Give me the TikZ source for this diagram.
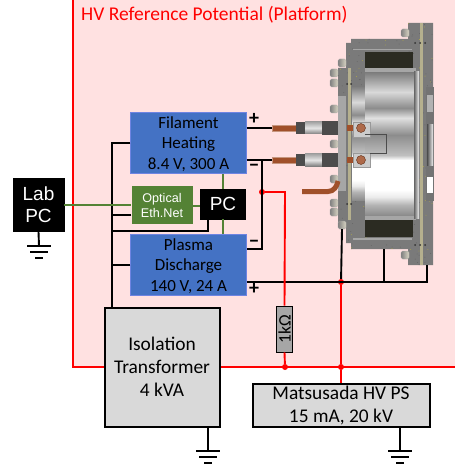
\documentclass[tikz,border=0pt]{standalone}
\usepackage{fontspec}
\setmainfont{Carlito}
\newfontfamily\arialfont{Liberation Sans}
\usetikzlibrary{positioning}
\definecolor{platformpink}{HTML}{FFE1E1}
\definecolor{boxblue}{HTML}{4472C4}
\definecolor{boxgreen}{HTML}{548235}
\definecolor{boxgray}{HTML}{D9D9D9}
\definecolor{copper}{HTML}{A0502A}
\definecolor{stone}{HTML}{7A7A7A}
\definecolor{coilblack}{HTML}{2B2B22}
\definecolor{tanstrip}{HTML}{B5B08E}
\definecolor{boltcolor}{HTML}{DAD6C4}
\pgfdeclareverticalshading{chamberbands}{100bp}{color(0bp)=(black!45); color(25bp)=(black!45);
  color(28.5bp)=(black!30); color(31.3bp)=(black!8); color(33.8bp)=(white); color(44.4bp)=(white);
  color(46.1bp)=(black!25); color(53.2bp)=(black!45); color(59.2bp)=(black!12); color(62.7bp)=(black!45);
  color(68.3bp)=(black!15); color(75bp)=(black!50); color(100bp)=(black!50)}
\tikzset{
  wire/.style={line width=1.9pt,black},
  redwire/.style={line width=1.9pt,red},
  greenwire/.style={line width=1.6pt,boxgreen},
  bluebox/.style={draw=blue!30!boxblue!70,fill=boxblue,minimum width=116pt,minimum height=61pt,inner sep=0pt,align=center,
    font=\fontsize{17}{20.6}\selectfont,text=black,text depth=-2pt},
  blackbox/.style={draw=black,fill=black,inner sep=0pt,align=center,text=white,
    font=\arialfont\fontsize{19}{22}\selectfont},
  graybox/.style={draw=black,line width=2pt,fill=boxgray,inner sep=0pt,align=center,
    font=\fontsize{19.4}{23.2}\selectfont},
  junction/.style={circle,fill=red,inner sep=0pt,minimum size=6pt},
  polarity/.style={inner sep=0pt,font=\bfseries\fontsize{20}{20}\selectfont},
  lead/.style={fill=copper,draw=copper!60,inner sep=0pt,minimum width=24pt,minimum height=6pt},
  bolt/.style={left color=black!50,right color=boltcolor,draw=black!35,line width=.3pt,rounded corners=1.5pt,inner sep=0pt,minimum width=8pt,minimum height=8pt},
  ground/.pic={
    \draw[wire] (-12,0) -- (12,0);
    \draw[wire] (-9,6) -- (9,6);
    \draw[wire] (-4,12) -- (4,12);
  }
}

\begin{document}
\begin{tikzpicture}[x=1pt,y=-1pt]
  \useasboundingbox (0,0) rectangle (455,465);

  % platform
  \fill[platformpink] (73,0) rectangle (455,367);
  \draw[redwire,line width=2.2pt] (73,0) -- (73,367) -- (455,367);
  \node[inner sep=0pt,anchor=west,text=red,font=\fontsize{19.5}{20}\selectfont] (platform) at (81,15) {HV Reference Potential (Platform)};

  % source housing
  \begin{scope}
    \clip (351,39) -- (408,39) -- (408,23) -- (433,23) -- (433,265) -- (408,265) -- (408,249) -- (351,249)
      -- (351,243) -- (346,243) -- (346,222) -- (338,222) -- (338,68) -- (346,68) -- (346,43) -- (351,43) -- cycle;
    \fill[stone] (330,20) rectangle (440,270);
    \pgfmathsetseed{11}
    \foreach \i in {1,...,260}{
      \pgfmathsetmacro\px{338+95*rnd}
      \pgfmathsetmacro\py{23+242*rnd}
      \fill[black!60] (\px,\py) circle (.5);
    }
    \foreach \i in {1,...,110}{
      \pgfmathsetmacro\px{338+95*rnd}
      \pgfmathsetmacro\py{23+242*rnd}
      \fill[yellow!70!black] (\px,\py) circle (.4);
    }
  \end{scope}
  \fill[black!35] (353,49) rectangle (412,50.5);
  \fill[coilblack] (365,52) rectangle (413,68);
  \fill[coilblack] (365,220) rectangle (413,237);
  \fill[black!35] (365,68) rectangle (416,73);
  \fill[black!35] (365,215) rectangle (416,220);
  \fill[black!35] (353,238) rectangle (412,239.5);
  \shade[shading=chamberbands] (352,87) rectangle (365,200);
  \shade[shading=chamberbands] (365,73) rectangle (414,215);
  \shade[left color=black!60,right color=black!5] (414,72) rectangle (419,218);
  \fill[tanstrip] (420,23) rectangle (423,265);
  \fill[tanstrip] (348,68) rectangle (351,220);
  \fill[black!35] (338,96) rectangle (346,191);
  \fill[black!55] (426,87) rectangle (434,201);
  \fill[black!30] (427,95) rectangle (433,112);
  \shade[left color=black!70,right color=black!5] (427,125) rectangle (433,165);
  \fill[white] (427,177) rectangle (433,193);
  \foreach \px/\py in {347/84,351/84,347/204,351/204,415/43,420/43,425/43,415/245,420/245,425/245}{
    \fill[black!80] (\px,\py) circle (1);
  }

  % terminals
  \fill[black!20,draw=black!40] (353,122) rectangle (370,137);
  \fill[black!20,draw=black!40] (353,153) rectangle (370,167);
  \fill[copper] (347,125) rectangle (353,131);
  \fill[copper] (347,157) rectangle (353,163);
  \fill[copper!85,draw=copper!60!black] (361,128) circle (4.5);
  \fill[copper!85,draw=copper!60!black] (361,160) circle (4.5);
  \draw[black!70,line width=.8pt] (365,134) -- (386,134) -- (386,153) -- (370,153);

  % bolts
  \foreach \py in {73,83,109,144,179,203,212}{
    \node[bolt] at (334,\py) {};
  }
  \node[bolt] at (342,63) {};
  \node[bolt] at (405,33) {};
  \node[bolt] at (405,255) {};
  \node[bolt] (boltlow) at (342,225) {};

  % cables
  \node[lead] (leadtop) at (284,128) {};
  \node[lead] (leadlow) at (284,160) {};
  \foreach \py in {128,160}{
    \fill[black!70] (296,\py-6) rectangle (305,\py+6);
    \shade[top color=black!35,bottom color=black!50,middle color=black!10] (305,\py-6) rectangle (322,\py+6);
    \fill[black!70] (322,\py-7) rectangle (338,\py+7);
  }
  \draw[copper,line width=5pt] (302,191.5) -- (328,191.5) to[out=0,in=-100] (338,181);

  % nodes
  \node[bluebox] (filament) at (188.5,143) {Filament\\Heating\\8.4 V, 300 A};
  \node[bluebox] (plasma) at (188.5,265) {Plasma\\Discharge\\140 V, 24 A};
  \node[fill=boxgreen,inner sep=0pt,minimum width=61pt,minimum height=38pt,align=center,text=white,
    font=\arialfont\fontsize{12.6}{15}\selectfont] (optical) at (162,205) {Optical\\Eth.Net};
  \node[blackbox,minimum width=45pt,minimum height=30pt] (pc) at (223,204) {PC};
  \node[blackbox,minimum width=51pt,minimum height=53pt] (labpc) at (38.5,205) {Lab\\PC};
  \node[graybox,minimum width=115pt,minimum height=119pt] (transformer) at (162,367) {Isolation\\Transformer\\4 kVA};
  \node[graybox,minimum width=177pt,minimum height=43pt] (hvps) at (341,405.5) {Matsusada HV PS\\15 mA, 20 kV};
  \node[draw=black,fill=black!35,line width=.8pt,inner sep=0pt,minimum width=46pt,minimum height=16pt,rotate=90,
    font=\fontsize{17.5}{17.5}\selectfont] (shunt) at (284.5,329) {1kΩ};

  \node[polarity] (fplus) at (254,119) {+};
  \node[polarity] (fminus) at (254,168) {−};
  \node[polarity] (pminus) at (254,244) {−};
  \node[polarity] (pplus) at (254,289) {+};

  \coordinate (bustop) at (112,143);
  \coordinate (pcfeed) at (112,231);
  \coordinate (tapfil) at (262,160);
  \coordinate (tapplasma) at (262,249);
  \coordinate (rail) at (427,282);
  \coordinate (railend) at (427,265);
  \coordinate (railmid) at (384,282);
  \coordinate (railmidend) at (384,249);
  \coordinate (shuntbend) at (285,192);
  \coordinate (gndlab) at (39,246);
  \coordinate (gndtrans) at (208,451);
  \coordinate (gndhvps) at (400,451);

  \node[junction] (jsense) at (262,192) {};
  \node[junction] (jrail) at (341,282) {};
  \node[junction] (jshunt) at (285,367) {};
  \node[junction] (jhvps) at (341,367) {};

  % black wiring
  \draw[wire] ([yshift=15pt]filament.east) -- (leadtop.west);
  \draw[wire] ([yshift=-17pt]filament.east) -- (leadlow.west);
  \draw[wire] (tapfil) -- (tapplasma) -- ([yshift=16pt]plasma.east);
  \draw[wire] ([yshift=-17pt]plasma.east) -- (rail) -- (railend);
  \draw[wire] (railmid) -- (railmidend);
  \draw[wire] (jrail) -- (boltlow.south);
  \draw[wire] (filament) -- (bustop) -- (bustop |- transformer.north);
  \draw[wire] ([yshift=-10pt]optical.west) -- ++(-19,0);
  \draw[wire] ([xshift=-15pt]pc.south) |- (pcfeed);
  \draw[wire] (plasma) -- (plasma -| bustop);

  % green wiring
  \draw[greenwire] (labpc) -- (optical);
  \draw[greenwire] ([yshift=-1pt]optical.east) -- ([yshift=-1pt]optical.east -| pc.west);
  \draw[greenwire] (pc.north) -- (pc.north |- filament.south);
  \draw[greenwire] (pc.south) -- (pc.south |- plasma.north);

  % red wiring
  \draw[redwire] (jsense) -- (shuntbend) -- (shunt.east);
  \draw[redwire] (shunt.west) -- (jshunt);
  \draw[redwire] (jrail) -- (jhvps) -- (jhvps |- hvps.north);

  % grounds
  \draw[wire] (labpc.south) -- (gndlab);
  \draw[wire] (transformer.south -| gndtrans) -- (gndtrans);
  \draw[wire] (hvps.south -| gndhvps) -- (gndhvps);
  \pic at (gndlab) {ground};
  \pic at (gndtrans) {ground};
  \pic at (gndhvps) {ground};
\end{tikzpicture}
\end{document}
